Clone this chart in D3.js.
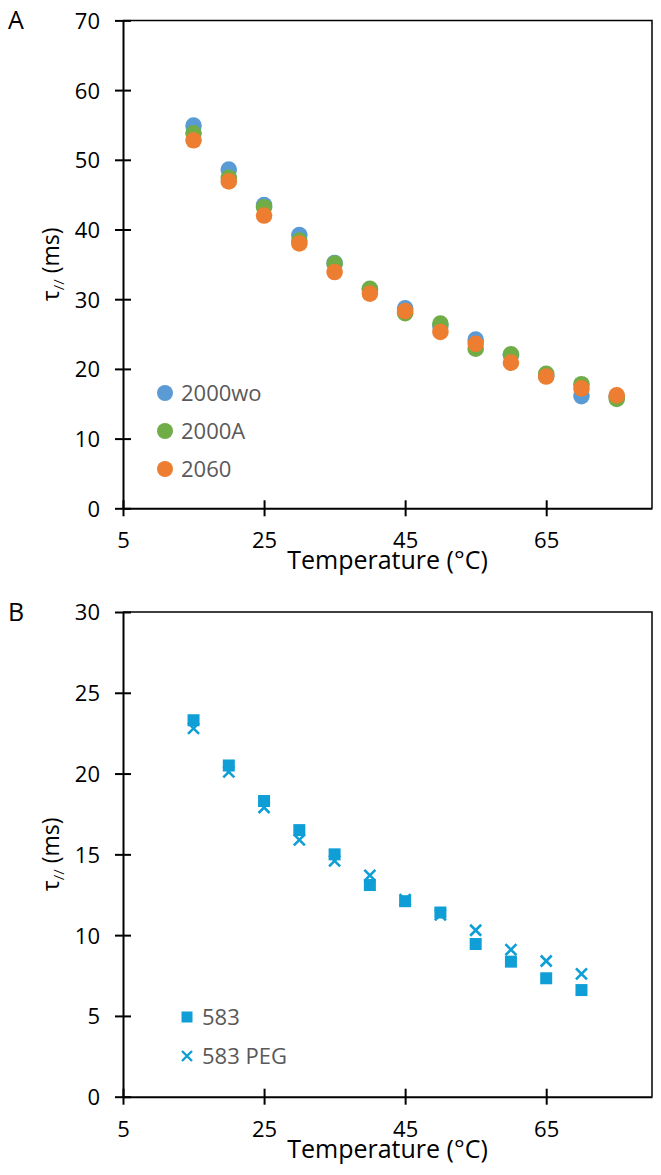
<!DOCTYPE html>
<html>
<head>
<meta charset="utf-8">
<script src="https://cdn.jsdelivr.net/npm/d3@7"></script>
<style>
  body { margin: 0; background: #fff; }
  text { font-family: "Open Sans", "Noto Sans", sans-serif; }
</style>
</head>
<body>
<div id="chart"></div>
<script>
const W = 661, H = 1175;

// panel A: temperature vs tau
const tempsA = [15, 20, 25, 30, 35, 40, 45, 50, 55, 60, 65, 70, 75];
const s2000wo = [54.9, 48.6, 43.5, 39.2, 35.2, 31.4, 28.7, 26.2, 24.2, 22.0, 19.0, 16.1, 16.0];
const s2000A  = [53.8, 47.4, 43.2, 38.4, 35.1, 31.5, 28.0, 26.5, 22.9, 22.1, 19.3, 17.8, 15.7];
const s2060   = [52.8, 46.9, 42.0, 38.0, 33.9, 30.8, 28.3, 25.3, 23.6, 20.9, 18.9, 17.2, 16.2];
const namesA = ["2000wo", "2000A", "2060"];
const colorsA = ["#5b9bd5", "#70ad47", "#ed7d31"];

// panel B
const tempsB = [15, 20, 25, 30, 35, 40, 45, 50, 55, 60, 65, 70];
const s583    = [23.3, 20.5, 18.3, 16.5, 15.0, 13.1, 12.1, 11.4, 9.45, 8.36, 7.33, 6.6];
const s583PEG = [22.8, 20.1, 17.9, 15.9, 14.6, 13.7, 12.2, 11.25, 10.3, 9.1, 8.4, 7.6];
const namesB = ["583", "583 PEG"];
const blueB = "#0f9ed5";

const xTicks = [5, 25, 45, 65];
const yTicksA = [0, 10, 20, 30, 40, 50, 60, 70];
const yTicksB = [0, 5, 10, 15, 20, 25, 30];

const svg = d3.select("#chart").append("svg")
    .attr("width", W)
    .attr("height", H);

function panel(top, bottom, yMax, yTicks, letter) {
    let x = d3.scaleLinear().domain([5, 80]).range([123, 652]);
    let y = d3.scaleLinear().domain([0, yMax]).range([bottom, top]);

    // frame (top + right)
    svg.append("path")
        .attr("d", `M${x(5)},${y(yMax)}H${x(80)}V${y(0)}`)
        .attr("fill", "none")
        .attr("stroke", "#000")
        .attr("stroke-width", 1.5);

    let yAxis = svg.append("g")
        .attr("transform", `translate(${x(5)},0)`)
        .call(d3.axisLeft(y).tickValues(yTicks).tickSizeOuter(0));
    yAxis.selectAll(".tick line").attr("x1", -8).attr("x2", 8).attr("stroke-width", 2);
    yAxis.selectAll(".tick text").attr("x", -23).attr("dy", "0.36em")
        .style("font-size", "22px").attr("fill", "#000");

    let xAxis = svg.append("g")
        .attr("transform", `translate(0,${y(0)})`)
        .call(d3.axisBottom(x).tickValues(xTicks).tickSizeOuter(0));
    xAxis.selectAll(".tick line").attr("y1", -8).attr("y2", 8).attr("stroke-width", 2);
    xAxis.selectAll(".tick text").attr("y", 40).attr("dy", null)
        .style("font-size", "22px").attr("fill", "#000");

    [xAxis, yAxis].forEach(a => a.select(".domain").attr("stroke-width", 2));

    svg.append("text")
        .attr("x", (x(5) + x(80)) / 2)
        .attr("y", y(0) + 61)
        .attr("text-anchor", "middle")
        .style("font-size", "25px")
        .text("Temperature (°C)");

    let yl = svg.append("text")
        .attr("transform", `translate(59,${(top + bottom) / 2}) rotate(-90)`)
        .attr("text-anchor", "middle")
        .style("font-size", "23px");
    yl.append("tspan").text("τ");
    yl.append("tspan").attr("dy", 5).style("font-size", "15px").text("//");
    yl.append("tspan").attr("dy", -5).text(" (ms)");

    svg.append("text")
        .attr("x", 8)
        .attr("y", top + 9)
        .style("font-size", "25px")
        .text(letter);

    return { x, y };
}

// ---- panel A
const A = panel(20.4, 508.3, 70, yTicksA, "A");
[s2000wo, s2000A, s2060].forEach((vals, k) => {
    svg.append("g").selectAll("circle")
        .data(vals)
        .enter()
        .append("circle")
        .attr("cx", (d, i) => A.x(tempsA[i]))
        .attr("cy", d => A.y(d))
        .attr("r", 8.3)
        .attr("fill", colorsA[k]);
});

const legA = svg.append("g").attr("transform", "translate(165,393)");
namesA.forEach((n, k) => {
    let g = legA.append("g").attr("transform", `translate(0,${k * 38})`);
    g.append("circle").attr("r", 8).attr("fill", colorsA[k]);
    g.append("text").attr("x", 16).attr("dy", "0.36em")
        .style("font-size", "22px").attr("fill", "#595959").text(n);
});

// ---- panel B
const B = panel(612, 1096.7, 30, yTicksB, "B");
svg.append("g").selectAll("rect")
    .data(s583)
    .enter()
    .append("rect")
    .attr("x", (d, i) => B.x(tempsB[i]) - 6)
    .attr("y", d => B.y(d) - 6)
    .attr("width", 12)
    .attr("height", 12)
    .attr("fill", blueB);

const cross = (cx, cy, s) => `M${cx - s},${cy - s}L${cx + s},${cy + s}M${cx - s},${cy + s}L${cx + s},${cy - s}`;
svg.append("g").selectAll("path")
    .data(s583PEG)
    .enter()
    .append("path")
    .attr("d", (d, i) => cross(B.x(tempsB[i]), B.y(d), 5.5))
    .attr("stroke", blueB)
    .attr("stroke-width", 2.6)
    .attr("fill", "none");

const legB = svg.append("g").attr("transform", "translate(187,1017)");
legB.append("rect").attr("x", -5.5).attr("y", -5.5).attr("width", 11).attr("height", 11).attr("fill", blueB);
legB.append("path").attr("d", cross(0, 39, 5)).attr("stroke", blueB).attr("stroke-width", 2.4);
namesB.forEach((n, k) => {
    legB.append("text").attr("x", 15).attr("y", k * 39).attr("dy", "0.36em")
        .style("font-size", "22px").attr("fill", "#595959").text(n);
});
</script>
</body>
</html>
